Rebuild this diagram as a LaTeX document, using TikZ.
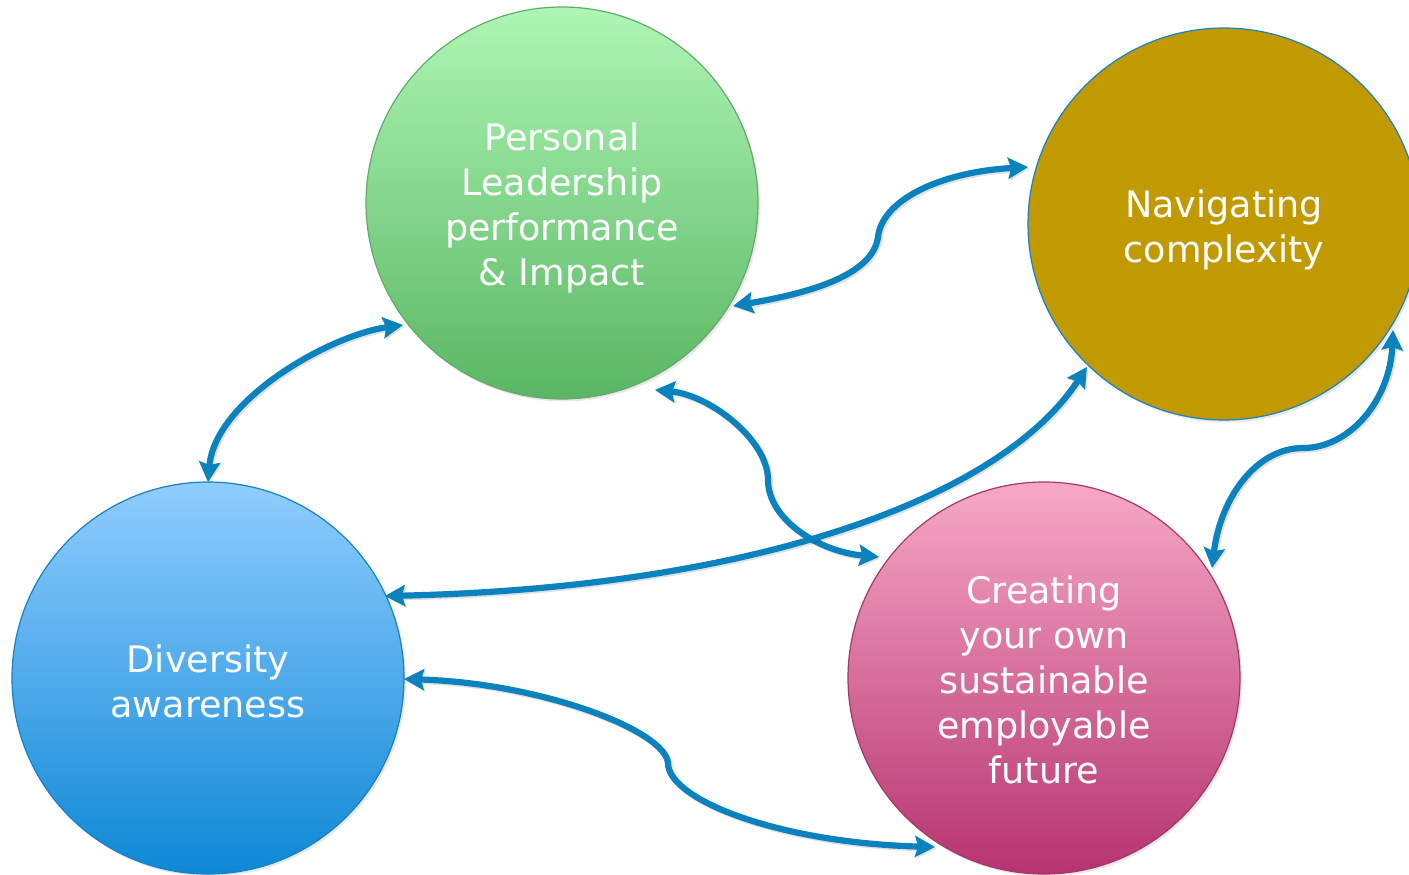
\documentclass[tikz,border=0pt]{standalone}
\usepackage{fontspec}
\setmainfont{DejaVu Sans}
\usetikzlibrary{arrows.meta,shadows}
\definecolor{arrowblue}{RGB}{10,130,190}
\definecolor{plTop}{RGB}{174,246,180}
\definecolor{plBot}{RGB}{90,182,100}
\definecolor{plLine}{RGB}{100,170,108}
\definecolor{ncFill}{RGB}{192,154,0}
\definecolor{ncLine}{RGB}{26,130,196}
\definecolor{daTop}{RGB}{144,205,255}
\definecolor{daBot}{RGB}{14,136,214}
\definecolor{daLine}{RGB}{24,128,196}
\definecolor{crTop}{RGB}{247,168,198}
\definecolor{crBot}{RGB}{182,52,112}
\definecolor{crLine}{RGB}{165,55,105}
\begin{document}
\begin{tikzpicture}[x=1pt,y=-1pt,
  bubble/.style={circle, minimum size=392pt, inner sep=0pt, line width=1.2pt,
    drop shadow={shadow xshift=2pt,shadow yshift=-2.5pt,opacity=0.18}},
  bubbletext/.style={text=white, align=center, inner sep=0pt,
    font=\fontsize{36.5}{45}\selectfont},
  tipshape/.tip={Stealth[length=20pt,width=21pt,inset=3pt]},
  link/.style={draw=arrowblue, line width=6.2pt, tipshape-tipshape,
    preaction={draw=black, opacity=0.12, line width=6.5pt,
      transform canvas={shift={(1.5pt,-1.5pt)}}}}]
\useasboundingbox (0,0) rectangle (1409,875);
\clip (0,0) rectangle (1409,875);
\fill[white] (0,0) rectangle (1409,875);

\node[bubble, top color=plTop, bottom color=plBot, draw=plLine] (P) at (562,203) {};
\node[bubble, fill=ncFill, draw=ncLine] (N) at (1224,224) {};
\node[bubble, top color=daTop, bottom color=daBot, draw=daLine] (D) at (208,678) {};
\node[bubble, top color=crTop, bottom color=crBot, draw=crLine] (C) at (1044,678) {};

\node[bubbletext] (Pt) at ([yshift=-5pt]P.center)
  {Personal\\Leadership\\performance\\\& Impact};
\node[bubbletext] (Nt) at ([yshift=-5.5pt]N.center) {Navigating\\complexity};
\node[bubbletext] (Dt) at ([yshift=-3pt]D.center) {Diversity\\awareness};
\node[bubbletext] (Ct) at ([yshift=-2pt]C.center)
  {Creating\\your own\\sustainable\\employable\\future};

% Personal <-> Navigating
\draw[link] ([shift={(-31.06:199.6pt)}]P.center)
  .. controls (810,293) and (873,275) .. (878,237)
  .. controls (882,200) and (940,172) .. ([shift={(163.8:204pt)}]N.center);
% Personal <-> Diversity
\draw[link] ([shift={(-142.5:200.4pt)}]P.center)
  .. controls (330,335) and (215,400) .. ([shift={(90:196pt)}]D.center);
% Personal <-> Creating
\draw[link] ([shift={(-63.55:208.8pt)}]P.center)
  .. controls (710,395) and (768,440) .. (768,480)
  .. controls (768,520) and (820,552) .. ([shift={(143.7:204.6pt)}]C.center);
% Diversity <-> Navigating
\draw[link] ([shift={(24.86:195pt)}]D.center)
  .. controls (750,588) and (1000,500) .. ([shift={(-133.8:198pt)}]N.center);
% Creating <-> Navigating
\draw[link] ([shift={(33.2:200.8pt)}]C.center)
  .. controls (1220,500) and (1255,448) .. (1303,448)
  .. controls (1350,448) and (1390,400) .. ([shift={(-32.1:199.5pt)}]N.center);
% Diversity <-> Creating
\draw[link] ([shift={(-0.3:196pt)}]D.center)
  .. controls (540,683) and (665,730) .. (668,763)
  .. controls (668,800) and (780,843) .. ([shift={(-122.8:201pt)}]C.center);
\end{tikzpicture}
\end{document}
